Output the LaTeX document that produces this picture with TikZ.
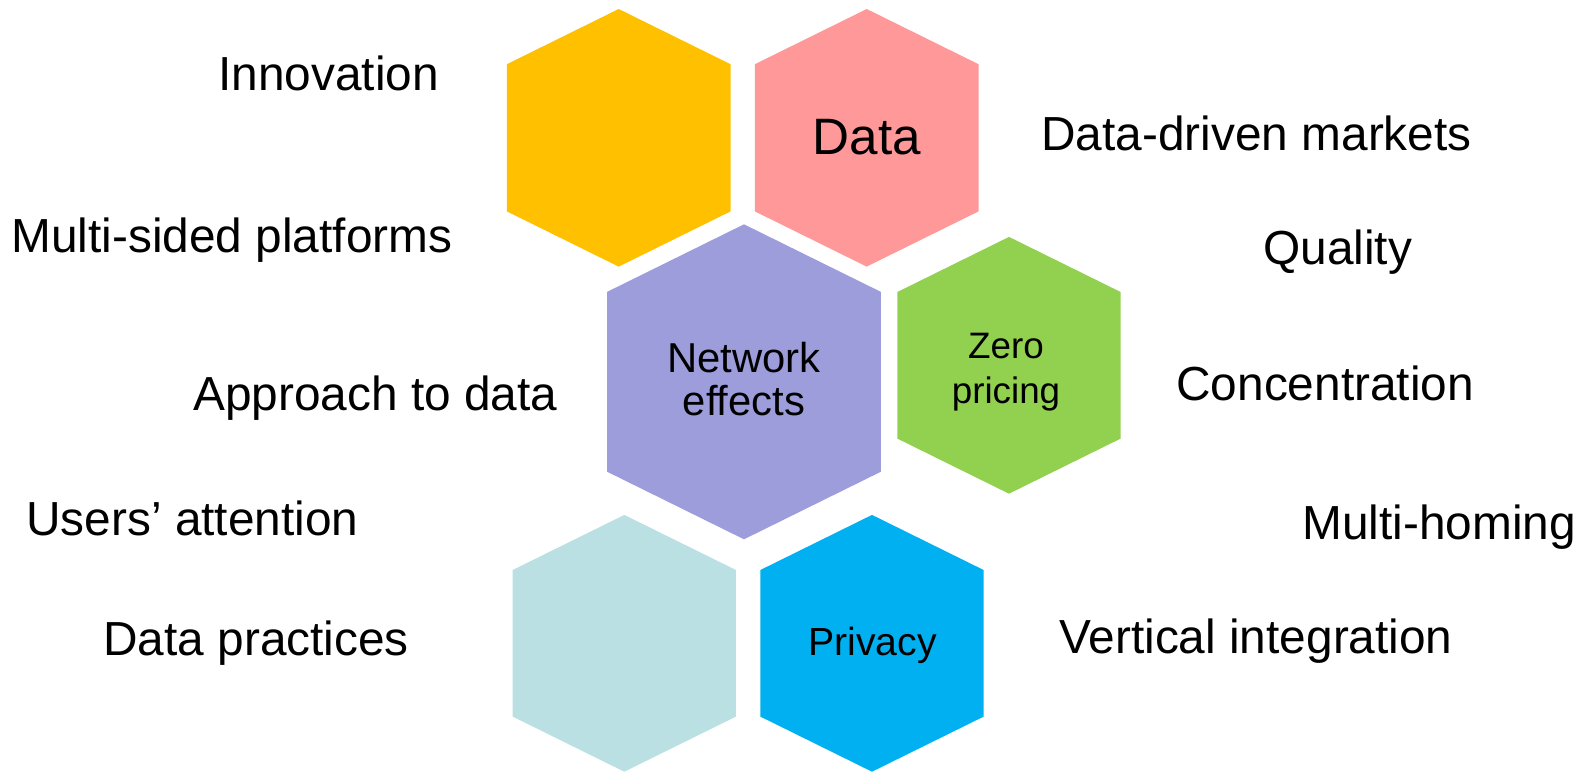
\documentclass[tikz,border=0pt]{standalone}
\usepackage{fontspec}
\setmainfont{Liberation Sans}
\usepackage{tikz}
\usetikzlibrary{positioning}
\definecolor{hexorange}{RGB}{255,192,0}
\definecolor{hexpink}{RGB}{255,153,153}
\definecolor{hexpurple}{RGB}{157,157,220}
\definecolor{hexgreen}{RGB}{146,208,80}
\definecolor{hexpale}{RGB}{187,224,227}
\definecolor{hexblue}{RGB}{0,176,240}
\tikzstyle{topic}=[anchor=base west,inner sep=0pt,font=\fontsize{23.9}{28}\selectfont]
\tikzstyle{cell}=[inner sep=0pt,align=center]
\newcommand{\hexcell}[4]{% colour, centre x, centre y, half height
\fill[#1] (#2,#3) ++(0,-#4) -- ++(0.869*#4,0.429*#4) -- ++(0,1.142*#4) -- ++(-0.869*#4,0.429*#4) -- ++(-0.869*#4,-0.429*#4) -- ++(0,-1.142*#4) -- cycle;}

\begin{document}
\begin{tikzpicture}[x=0.5pt,y=-0.5pt]
\useasboundingbox (0,0) rectangle (1587,772);
\hexcell{hexorange}{618.7}{137.8}{128.8}
\hexcell{hexpink}{866.7}{137.8}{128.8}
\hexcell{hexpurple}{744}{381.8}{157.5}
\hexcell{hexgreen}{1009}{365.3}{128.4}
\hexcell{hexpale}{624.3}{643.3}{128.4}
\hexcell{hexblue}{872}{643.3}{128.4}
\node[cell,anchor=base,font=\fontsize{25.6}{30}\selectfont] (data) at (866.8,154) {Data};
\node[cell,font=\fontsize{20.9}{21.7}\selectfont] (network) at (744,379) {Network\\effects};
\node[cell,font=\fontsize{18.4}{22.5}\selectfont] (zero) at (1006,372) {Zero\\pricing};
\node[cell,anchor=base,font=\fontsize{19.6}{24}\selectfont] (privacy) at (872.5,655.7) {Privacy};
% topics round the cells
\node[topic] (innov) at (218,90) {Innovation};
\node[topic] (msp) at (11,252) {Multi-sided platforms};
\node[topic] (approach) at (193,410) {Approach to data};
\node[topic] (users) at (26,535) {Users’ attention};
\node[topic] (practices) at (103,655) {Data practices};
\node[topic] (markets) at (1041,150) {Data-driven markets};
\node[topic] (quality) at (1263,264) {Quality};
\node[topic] (conc) at (1176,400) {Concentration};
\node[topic] (homing) at (1302,539) {Multi-homing};
\node[topic] (vertical) at (1059,653) {Vertical integration};
\end{tikzpicture}
\end{document}
